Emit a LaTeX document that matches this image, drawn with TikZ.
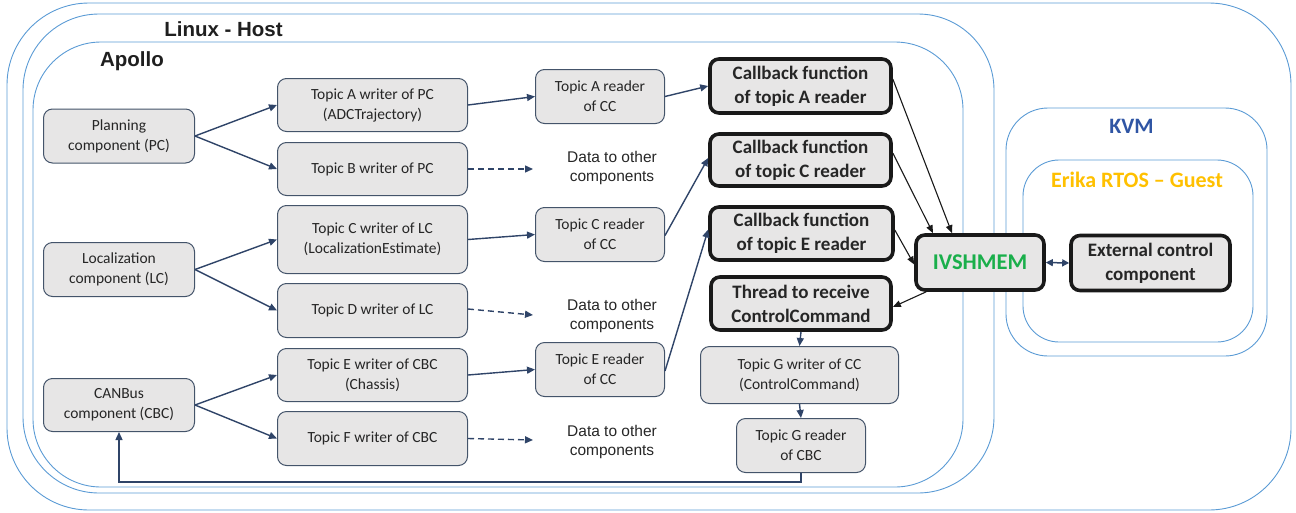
\documentclass[tikz,border=0pt]{standalone}
\usepackage{fontspec}
\setmainfont{Carlito}
\newfontfamily\arialf{Liberation Sans}
\usetikzlibrary{arrows.meta,calc}
\definecolor{fillg}{HTML}{E7E6E6}
\definecolor{edgec}{HTML}{44546A}
\definecolor{arrc}{HTML}{2F4468}
\definecolor{contc}{HTML}{5B9BD5}
\definecolor{kvmblue}{HTML}{2F55A4}
\definecolor{erikac}{HTML}{FFC000}
\definecolor{ivsgreen}{HTML}{1AAF4B}
\begin{document}
\begin{tikzpicture}[x=1pt,y=-1pt,
  box/.style={draw=edgec, line width=1pt, fill=fillg, rounded corners=9pt, align=center,
    font=\fontsize{15.5}{20}\selectfont, inner sep=0pt, text=black!85},
  boldbox/.style={draw=black!90, line width=3.6pt, fill=fillg, rounded corners=9pt, align=center,
    font=\bfseries\fontsize{19}{24}\selectfont, inner sep=0pt, text=black!85},
  cont/.style={draw=contc, line width=0.9pt},
  datatxt/.style={align=center, font=\arialf\fontsize{15.5}{19}\selectfont, text=black!85},
  titletxt/.style={font=\arialf\bfseries\fontsize{20.5}{24}\selectfont, text=black!88},
  arr/.style={-{Triangle[length=8pt,width=7pt]}, draw=arrc, line width=1.4pt},
  darr/.style={arr, dash pattern=on 6pt off 4pt},
  barr/.style={-{Triangle[length=8pt,width=6.5pt]}, draw=black!90, line width=1.1pt},
]
\useasboundingbox (0,0) rectangle (1296,512);
% containers
\draw[cont, rounded corners=82pt] (7,3) rectangle (1291,510);
\draw[cont, rounded corners=76pt] (23,14) rectangle (994,493);
\draw[cont, rounded corners=68pt] (33,42) rectangle (963,487);
\draw[cont, rounded corners=42pt] (1006,108) rectangle (1267,356);
\draw[cont, rounded corners=36pt] (1023,160) rectangle (1253,342);
\node[titletxt] (lh) at (223.5,29) {Linux - Host};
\node[titletxt] (apl) at (132,61) {Apollo};
\node[font=\bfseries\fontsize{22}{26}\selectfont, text=kvmblue] (kvm) at (1131.5,126) {KVM};
\node[font=\bfseries\fontsize{22}{26}\selectfont, text=erikac] (erk) at (1137,179.5) {Erika RTOS -- Guest};
% left components
\node[box, minimum width=151pt, minimum height=54pt] (pc) at (119,136) {Planning\\component (PC)};
\node[box, minimum width=151pt, minimum height=54pt] (lc) at (119,269.5) {Localization\\component (LC)};
\node[box, minimum width=151pt, minimum height=53pt] (cbc) at (119,405) {CANBus\\component (CBC)};
% writers
\node[box, minimum width=190pt, minimum height=53pt] (wa) at (372.5,105) {Topic A writer of PC\\(ADCTrajectory)};
\node[box, minimum width=190pt, minimum height=53pt] (wb) at (372.5,169) {Topic B writer of PC};
\node[box, minimum width=190pt, minimum height=68pt] (wc) at (372.5,239.5) {Topic C writer of LC\\(LocalizationEstimate)};
\node[box, minimum width=190pt, minimum height=54pt] (wd) at (372.5,310.5) {Topic D writer of LC};
\node[box, minimum width=190pt, minimum height=53pt] (we) at (372.5,375) {Topic E writer of CBC\\(Chassis)};
\node[box, minimum width=190pt, minimum height=54pt] (wf) at (372.5,438.5) {Topic F writer of CBC};
% readers
\node[box, minimum width=129pt, minimum height=54pt] (ra) at (600,96.5) {Topic A reader\\of CC};
\node[box, minimum width=129pt, minimum height=54pt] (rc) at (600,234.5) {Topic C reader\\of CC};
\node[box, minimum width=129pt, minimum height=54pt] (re) at (600,369.5) {Topic E reader\\of CC};
% data texts
\node[datatxt] (d1) at (612,168) {Data to other\\components};
\node[datatxt] (d2) at (612,316) {Data to other\\components};
\node[datatxt] (d3) at (612,442) {Data to other\\components};
\coordinate (e1) at (533,169);
\coordinate (e2) at (533,315);
\coordinate (e3) at (533,440);
% callbacks
\node[boldbox, minimum width=181pt, minimum height=54pt] (cba) at (800.5,86) {Callback function\\of topic A reader};
\node[boldbox, minimum width=181pt, minimum height=52pt] (cbcb) at (800.5,160) {Callback function\\of topic C reader};
\node[boldbox, minimum width=183pt, minimum height=53pt] (cbe) at (801.5,233.5) {Callback function\\of topic E reader};
\node[boldbox, minimum width=180pt, minimum height=53pt] (thr) at (801,303.5) {Thread to receive\\ControlCommand};
\node[box, minimum width=198pt, minimum height=57pt] (gw) at (799.5,375) {Topic G writer of CC\\(ControlCommand)};
\node[box, minimum width=129pt, minimum height=54pt] (gr) at (801,445.5) {Topic G reader\\of CBC};
% IVSHMEM & external
\node[boldbox, minimum width=128pt, minimum height=55pt, font=\bfseries\fontsize{22.5}{26}\selectfont, text=ivsgreen] (ivs) at (980,262.5) {IVSHMEM};
\node[boldbox, minimum width=159pt, minimum height=55pt] (ext) at (1150.5,263) {External control\\component};
% arrows from components
\draw[arr] (pc.east) -- (wa.west);
\draw[arr] (pc.east) -- (wb.west);
\draw[arr] (lc.east) -- (wc.west);
\draw[arr] (lc.east) -- (wd.west);
\draw[arr] (cbc.east) -- (we.west);
\draw[arr] (cbc.east) -- (wf.west);
% writer -> reader
\draw[arr] (wa.east) -- (ra.west);
\draw[arr] (wc.east) -- (rc.west);
\draw[arr] (we.east) -- (re.west);
\draw[darr] (wb.east) -- (e1);
\draw[darr] ([yshift=1.5pt]wd.east) -- (e2);
\draw[darr] (wf.east) -- (e3);
% reader -> callbacks
\draw[arr] (ra.east) -- (cba.west);
\draw[arr] ([yshift=-1pt]rc.east) -- ([yshift=2pt]cbcb.west);
\draw[arr] ([yshift=-1.5pt]re.east) -- ([yshift=4pt]cbe.west);
% callbacks -> IVSHMEM
\draw[barr] ([yshift=7pt]cba.east) -- ([xshift=-28pt]ivs.north);
\draw[barr] ([yshift=7pt]cbcb.east) -- ([xshift=-47pt]ivs.north);
\draw[barr] ([yshift=3.5pt]cbe.east) -- ([yshift=-2pt]ivs.west);
\draw[barr] ([xshift=12pt]ivs.south west) -- ([yshift=-3.5pt]thr.east);
% control chain
\draw[arr] (thr.south) -- (gw.north);
\draw[arr] (gw.south) -- (gr.north);
\draw[arr] (gr.south) -- ++(0,9) -| (cbc.south);
% IVSHMEM <-> external
\draw[{Triangle[length=7pt,width=7pt]}-{Triangle[length=7pt,width=7pt]}, draw=arrc, line width=1.5pt] (ivs.east) -- (ext.west);
\end{tikzpicture}
\end{document}
